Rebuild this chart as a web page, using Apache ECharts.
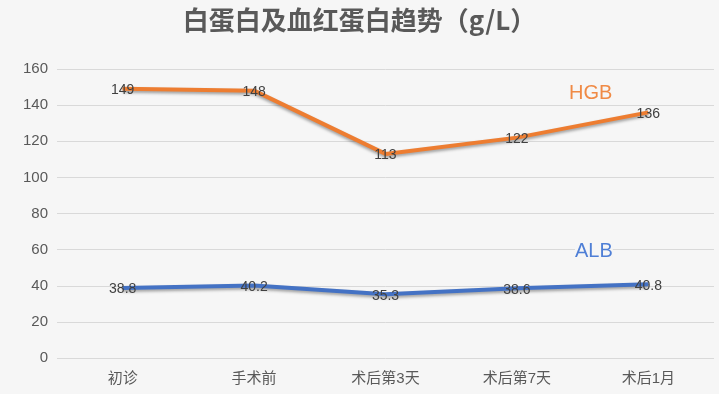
<!DOCTYPE html>
<html><head><meta charset="utf-8">
<script src="https://cdn.jsdelivr.net/npm/echarts@6/dist/echarts.min.js"></script>
<style>html,body{margin:0;padding:0;background:#f6f6f6;}#c{width:719px;height:394px;}</style>
</head><body><div id="c"></div>
<script>
const categories = ['初诊','手术前','术后第3天','术后第7天','术后1月'];
const hgb = [149,148,113,122,136];
const alb = [38.8,40.2,35.3,38.6,40.8];
const yTicks = [0,20,40,60,80,100,120,140,160];
const font = '"Liberation Sans","Noto Sans CJK SC",sans-serif';
const chart = echarts.init(document.getElementById('c'));
const lineShadow = {shadowColor:'rgba(0,0,0,0.35)',shadowBlur:3,shadowOffsetY:2};
const dataLabel = {show:true,position:'top',distance:0,offset:[0,9],color:'#404040',fontSize:14,fontFamily:font};
chart.setOption({
  backgroundColor:'#f6f6f6',
  textStyle:{fontFamily:font},
  title:{text:'白蛋白及血红蛋白趋势（g/L）',left:'center',top:2,
    textStyle:{fontSize:26,fontWeight:'bold',color:'#595959',fontFamily:'"Noto Sans CJK SC",sans-serif'}},
  grid:{left:57,right:5,top:69,bottom:36},
  xAxis:{type:'category',data:categories,boundaryGap:true,
    axisLine:{show:false},axisTick:{show:false},
    axisLabel:{color:'#595959',fontSize:15,margin:13,fontFamily:font}},
  yAxis:{type:'value',min:yTicks[0],max:yTicks[yTicks.length-1],interval:20,
    axisLine:{show:false},axisTick:{show:false},
    axisLabel:{color:'#595959',fontSize:15,margin:9,fontFamily:font},
    splitLine:{lineStyle:{color:'#d9d9d9',width:1}}},
  series:[
    {name:'HGB',type:'line',data:hgb,symbol:'circle',symbolSize:1,showSymbol:true,
     lineStyle:Object.assign({color:'#ED7D31',width:4},lineShadow),
     itemStyle:{color:'#ED7D31'},label:dataLabel,z:3},
    {name:'ALB',type:'line',data:alb,symbol:'circle',symbolSize:1,showSymbol:true,
     lineStyle:Object.assign({color:'#4472C4',width:4},lineShadow),
     itemStyle:{color:'#4472C4'},label:dataLabel,z:3}
  ],
  graphic:[
    {type:'text',left:569,top:83,z:10,style:{text:'HGB',fill:'#F08A45',font:'20px "Liberation Sans",Arial,sans-serif'}},
    {type:'text',left:575,top:241,z:10,style:{text:'ALB',fill:'#4F7FD6',font:'20px "Liberation Sans",Arial,sans-serif',backgroundColor:'#f6f6f6'}}
  ]
});
</script></body></html>
